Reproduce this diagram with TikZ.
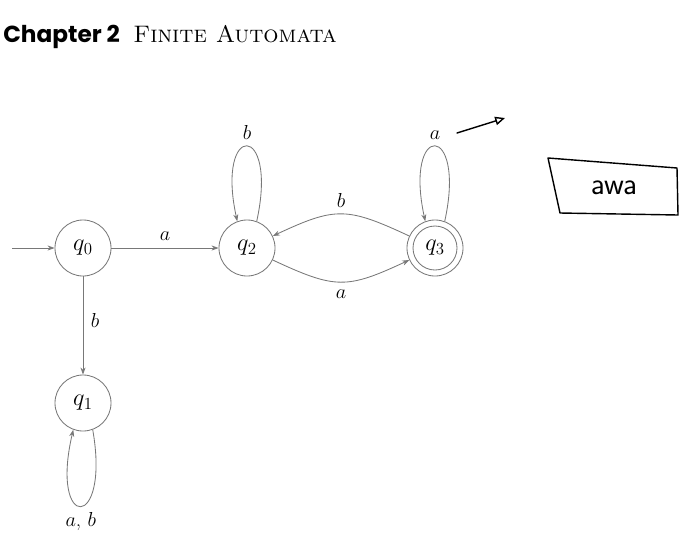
\documentclass[tikz,border=0pt]{standalone}
\usepackage{fontspec}
\usepackage{xcolor}
\usepackage{tikz}
\usetikzlibrary{arrows.meta}
\newfontfamily\chapfont{Poppins}
\definecolor{edgegray}{RGB}{120,120,120}

\begin{document}
\begin{tikzpicture}[x=0.025cm, y=0.025cm, font=\fontsize{15}{17}\selectfont,
    qstate/.style={circle, draw=edgegray, line width=0.6pt, minimum size=1.4cm, inner sep=0pt,
      font=\fontsize{17}{19}\selectfont},
    trans/.style={draw=edgegray, line width=0.6pt, -{Stealth[length=5pt,width=3.6pt]}},
    pen/.style={draw=black, line width=1pt, line cap=round, line join=round}]
  \useasboundingbox (0,0) rectangle (682,-533);
  % heading
  \node[anchor=base west, inner sep=0pt, font=\chapfont\bfseries\fontsize{16.5}{18}\selectfont]
    (chap) at (3,-42) {Chapter 2};
  \node[anchor=base west, inner sep=0pt, font=\fontsize{17}{19}\selectfont]
    (title) at (133,-42) {\textsc{Finite Automata}};
  % states
  \node[qstate] (q0) at (83,-248) {$q_0$};
  \node[qstate] (q2) at (247,-248) {$q_2$};
  \node[qstate] (q3) at (435,-248) {$q_3$};
  \node[qstate, minimum size=1.1cm] (q3in) at (q3) {};
  \node[qstate] (q1) at (83,-403) {$q_1$};
  \coordinate (start) at (12,-248);
  % transitions
  \draw[trans] (start) -- (q0);
  \draw[trans] (q0) -- node[above=2pt] {$a$} (q2);
  \draw[trans] (q0) -- node[right=2pt, pos=0.45] {$b$} (q1);
  \draw[trans] (q3) to[out=155, in=25, looseness=1.3] node[above=1pt] {$b$} (q2);
  \draw[trans] (q2) to[out=-25, in=-155, looseness=1.3] node[below=2pt] {$a$} (q3);
  % self loops
  \draw[trans] (q2.70) .. controls +(22,100) and +(-22,100) .. node[above=1pt] {$b$} (q2.110);
  \draw[trans] (q3.70) .. controls +(22,100) and +(-22,100) .. node[above=1pt] {$a$} (q3.110);
  \draw[trans] (q1.-70) .. controls +(18,-102) and +(-24,-102) .. node[below=1pt] {$a$, $b$} (q1.-110);
  % pen marks
  \coordinate (pentail) at (457,-133);
  \coordinate (penhead) at (505,-118);
  \draw[pen, -{Triangle[open, length=7pt, width=6pt]}] (pentail) -- (penhead);
  \node[font=\sffamily\fontsize{22}{24}\selectfont] (awa) at (614,-188) {awa};
  \draw[pen] (548,-158) -- (677,-168) -- (678,-215) -- (560,-213) -- cycle;
\end{tikzpicture}
\end{document}
